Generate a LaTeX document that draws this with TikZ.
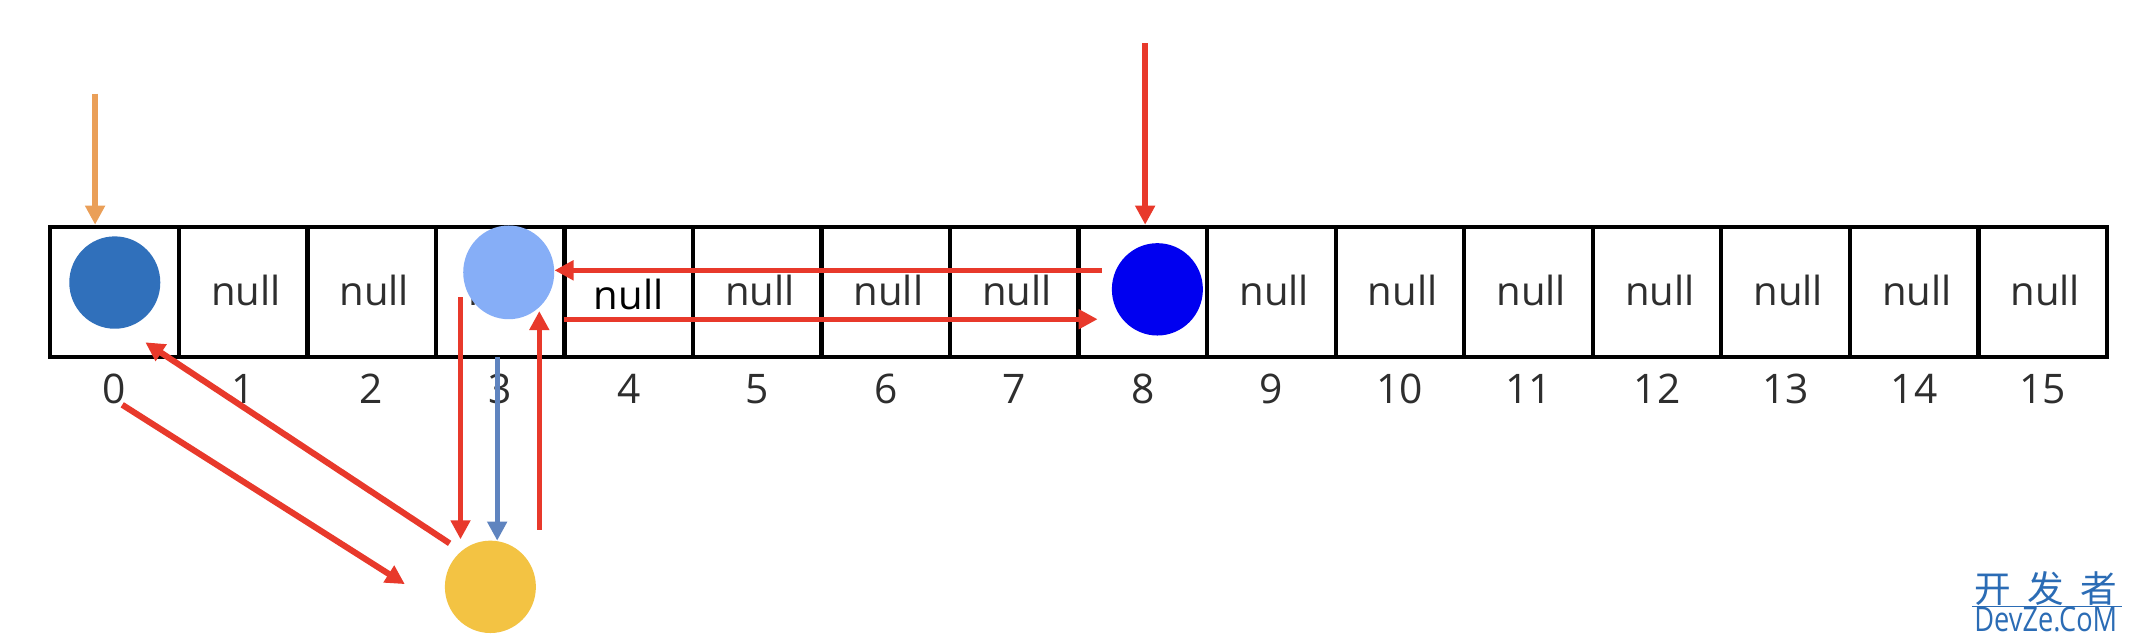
\documentclass[tikz,border=0pt]{standalone}
\usepackage{fontspec}
\setmainfont{Open Sans}
\newfontfamily\cjk{Noto Sans CJK SC}
\usetikzlibrary{arrows.meta,shapes.geometric}
\definecolor{cRed}{HTML}{E8392B}
\definecolor{cOrange}{HTML}{EA9F58}
\definecolor{cSteel}{HTML}{5F84BF}
\definecolor{cDark}{HTML}{3070BB}
\definecolor{cLight}{HTML}{86AEF7}
\definecolor{cBlue}{HTML}{0000F0}
\definecolor{cYellow}{HTML}{F3C343}
\definecolor{cText}{HTML}{2E2E2E}
\definecolor{cMark}{HTML}{2B6CB5}
\begin{document}
\begin{tikzpicture}[x=1pt,y=-1pt,
  cell/.style={draw=black,line width=3.2pt,rectangle,minimum width=94.625pt,minimum height=96pt,inner sep=0pt},
  nulltxt/.style={font=\fontsize{29.5}{34}\selectfont,text=cText,inner sep=0pt},
  idx/.style={font=\fontsize{30}{34}\selectfont,text=cText,inner sep=0pt},
  ball/.style={ellipse,draw=none,inner sep=0pt,minimum width=67pt,minimum height=68pt},
  arr/.style={-{Triangle[length=14pt,width=14pt]},line width=4pt}]
\useasboundingbox (0,0) rectangle (1568,470);
\fill[white] (0,0) rectangle (1568,470);
% cells
\foreach \i in {0,...,15}
  \node[cell] (c\i) at ({37+94.625*(\i+0.5)},215) {};
% null texts
\foreach \i in {1,2,3,5,6,7,9,10,11,12,13,14,15}
  \node[nulltxt,xshift=2pt,yshift=1.5pt] (t\i) at (c\i.center) {null};
\node[nulltxt,text=black,xshift=0pt,yshift=-1.5pt] (t4) at (c4.center) {null};
% indices
\foreach \i in {0,...,15}
  \node[idx,yshift=-71.5pt] (i\i) at (c\i.center) {\i};
% balls
\node[ball,fill=cDark] (n0) at (84.5,208) {};
\node[ball,fill=cLight,minimum height=69pt] (n3) at (374.5,200.5) {};
\node[ball,fill=cBlue] (n8) at (852,213) {};
\node[ball,fill=cYellow] (ny) at (361,432) {};
% arrow end coordinates
\coordinate (oTop) at (70,69);
\coordinate (rTop) at (843,32);
\coordinate (lStart) at (811,199);
\coordinate (rStart) at (415,235);
\coordinate (rEnd) at (808,235);
\coordinate (dStart) at (339,219);
\coordinate (dEnd) at (339,397);
\coordinate (sStart) at (366,263);
\coordinate (sEnd) at (366,398);
\coordinate (uStart) at (397,390);
\coordinate (uEnd) at (397,229);
\coordinate (gStart) at (331,400);
\coordinate (gEnd) at (107,252);
\coordinate (hStart) at (90,298);
\coordinate (hEnd) at (298,430);
% arrows
\draw[arr,cOrange,line width=4.5pt] (oTop) -- (oTop |- c0.north);
\draw[arr,cRed] (rTop) -- (rTop |- c8.north);
\draw[arr,cRed] (lStart) -- (lStart -| n3.east);
\draw[arr,cRed] (rStart) -- (rEnd);
\draw[arr,cRed] (dStart) -- (dEnd);
\draw[arr,cSteel,line width=3.8pt] (sStart) -- (sEnd);
\draw[arr,cRed] (uStart) -- (uEnd);
\draw[arr,cRed,line width=4.5pt] (gStart) -- (gEnd);
\draw[arr,cRed,line width=4.5pt] (hStart) -- (hEnd);
% watermark
\node[text=cMark,inner sep=0pt,font=\cjk\fontsize{27}{30}\selectfont] (wm1) at (1506,433) {开\hspace{12pt}发\hspace{12pt}者};
\coordinate (wl1) at (1452,446.5);
\coordinate (wl2) at (1562,446.5);
\draw[cMark,line width=0.8pt] (wl1) -- (wl2);
\node[text=cMark,inner sep=0pt,font=\fontsize{25}{28}\selectfont,xscale=0.8] (wm2) at (1506,456) {DevZe.CoM};
\end{tikzpicture}
\end{document}
